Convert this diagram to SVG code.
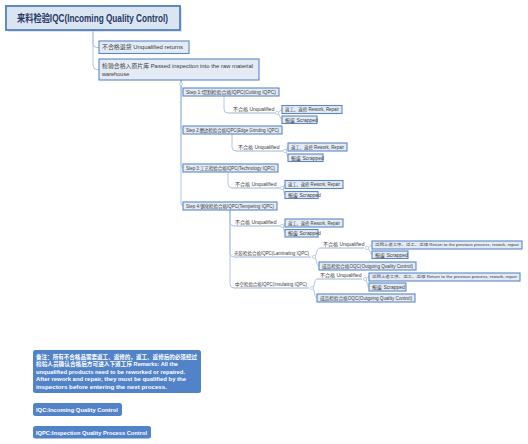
<svg xmlns="http://www.w3.org/2000/svg" width="528" height="444" viewBox="0 0 528 444">
<defs>
<style>
.bg{fill:#ffffff}
.t{font-family:"Liberation Sans","Noto Sans CJK SC",sans-serif;font-size:5px;fill:#3a3a3a}
.ts{font-family:"Liberation Sans","Noto Sans CJK SC",sans-serif;font-size:3.8px;fill:#3a3a3a}
.box{fill:#e4ebf5;stroke:#5b87c5;stroke-width:1.1}
.root{fill:#dbe5f1;stroke:#4f81bd;stroke-width:1.8}
.rt{font-family:"Liberation Sans","Noto Sans CJK SC",sans-serif;font-size:10px;font-weight:bold;fill:#1f3864}
.ln{fill:none;stroke:#b2c5df;stroke-width:1}
.ul{fill:none;stroke:#9db6d8;stroke-width:1}
.dot{fill:#ffffff;stroke:#b2c5df;stroke-width:0.8}
.note{fill:#5283c8}
.nt{font-family:"Liberation Sans","Noto Sans CJK SC",sans-serif;font-size:5.8px;font-weight:bold;fill:#ffffff}
</style>
</defs>
<rect class="bg" x="0" y="0" width="528" height="444"/>

<g id="connectors">
<path class="ln" d="M93,30 V43.5 Q93,47.5 97,47.5 H99"/>
<path class="ln" d="M93,30 V65.5 Q93,69.5 97,69.5 H99"/>
<path class="ln" d="M181,80 V88 Q181,92 183,92"/>
<path class="ln" d="M181,80 V126 Q181,130 183,130"/>
<path class="ln" d="M181,80 V164 Q181,168 183,168"/>
<path class="ln" d="M181,80 V202 Q181,206 183,206"/>
<path class="ln" d="M224,96 V109 Q224,113 228,113"/>
<path class="ul" d="M228,113 H275"/>
<path class="ln" d="M277,113 C280,113 280,109.5 282,109.5"/>
<path class="ln" d="M277,113 C280,113 280,119.5 282,119.5"/>
<path class="ln" d="M232,134 V147 Q232,151 236,151"/>
<path class="ul" d="M236,151 H283"/>
<path class="ln" d="M285,151 C287,151 287,147 288,147"/>
<path class="ln" d="M285,151 C287,151 287,157.5 288,157.5"/>
<path class="ln" d="M228,172 V184 Q228,188 232,188"/>
<path class="ul" d="M232,188 H280"/>
<path class="ln" d="M282,188 C284,188 284,184.5 285,184.5"/>
<path class="ln" d="M282,188 C284,188 284,195 285,195"/>
<path class="ln" d="M230,210 V222 Q230,226 234,226"/>
<path class="ln" d="M230,210 V253 Q230,257 234,257"/>
<path class="ln" d="M230,210 V284 Q230,288 234,288"/>
<path class="ul" d="M234,226 H280"/>
<path class="ln" d="M282,226 C284,226 284,223 285,223"/>
<path class="ln" d="M282,226 C284,226 284,233 285,233"/>
<path class="ul" d="M234,257 H311"/>
<path class="ul" d="M234,288 H309"/>
<path class="ln" d="M314,257 C317,257 316,248 320,248"/>
<path class="ln" d="M314,257 C317,257 316,266 319,266"/>
<path class="ul" d="M320,248 H364"/>
<path class="ln" d="M367,248 C370,248 370,245 372,245"/>
<path class="ln" d="M367,248 C370,248 370,254.5 372,254.5"/>
<path class="ln" d="M312,288 C315,288 314,279 317,279"/>
<path class="ln" d="M312,288 C315,288 314,298 317,298"/>
<path class="ul" d="M317,279 H362"/>
<path class="ln" d="M365,279 C367,279 367,277 369,277"/>
<path class="ln" d="M365,279 C367,279 367,287 369,287"/>
<circle class="dot" cx="277" cy="113" r="1.6"/>
<circle class="dot" cx="285" cy="151" r="1.6"/>
<circle class="dot" cx="282" cy="188" r="1.6"/>
<circle class="dot" cx="282" cy="226" r="1.6"/>
<circle class="dot" cx="314" cy="257" r="1.6"/>
<circle class="dot" cx="312" cy="288" r="1.6"/>
<circle class="dot" cx="367" cy="248" r="1.6"/>
<circle class="dot" cx="365" cy="279" r="1.6"/>
<circle class="dot" cx="181" cy="84" r="1.4"/>
</g>

<g id="root">
<rect x="8" y="8" width="174" height="24" fill="#c9cfd8" opacity="0.6"/>
<rect class="root" x="6" y="6" width="174" height="24"/>
<text class="rt" x="17" y="21.5" textLength="151" lengthAdjust="spacingAndGlyphs">来料检验IQC(Incoming Quality Control)</text>
</g>

<g id="n-returns">
<rect class="box" x="99" y="41" width="90" height="12.5"/>
<text class="t" x="102" y="49.3" style="font-size:5.6px" textLength="81" lengthAdjust="spacingAndGlyphs">不合格退货 Unqualified returns</text>
</g>

<g id="n-passed">
<rect class="box" x="99" y="59" width="160" height="21"/>
<text class="t" x="102" y="67.5" style="font-size:5.6px" textLength="151" lengthAdjust="spacingAndGlyphs">检验合格入原片库 Passed inspection into the raw material</text>
<text class="t" x="102" y="75.5" style="font-size:5.6px">warehouse</text>
</g>

<g id="step1">
<rect class="box" x="183" y="88" width="96" height="8"/>
<text class="t" x="186" y="93.8" textLength="90" lengthAdjust="spacingAndGlyphs">Step 1:切割检验合格IQPC(Cutting IQPC)</text>
</g>
<g id="step1-unq"><text class="t" x="233" y="111.3">不合格 Unqualified</text></g>
<g id="step1-rework"><rect class="box" x="282" y="105.5" width="60" height="8"/><text class="t" x="285" y="111.3" textLength="54" lengthAdjust="spacingAndGlyphs">返工、返修 Rework, Repair</text></g>
<g id="step1-scrap"><rect class="box" x="282" y="116" width="35" height="7.5"/><text class="t" x="285" y="121.5">报废 Scrapped</text></g>

<g id="step2">
<rect class="box" x="183" y="126" width="99" height="8"/>
<text class="t" x="186" y="131.8" textLength="93" lengthAdjust="spacingAndGlyphs">Step 2:磨边检验合格IQPC(Edge Grinding IQPC)</text>
</g>
<g id="step2-unq"><text class="t" x="238" y="149.3">不合格 Unqualified</text></g>
<g id="step2-rework"><rect class="box" x="288" y="143" width="59" height="8"/><text class="t" x="291" y="148.8" textLength="53" lengthAdjust="spacingAndGlyphs">返工、返修 Rework, Repair</text></g>
<g id="step2-scrap"><rect class="box" x="288" y="154" width="35" height="7.5"/><text class="t" x="291" y="159.5">报废 Scrapped</text></g>

<g id="step3">
<rect class="box" x="183" y="164" width="95" height="8"/>
<text class="t" x="186" y="169.8" textLength="89" lengthAdjust="spacingAndGlyphs">Step 3:工艺检验合格IQPC(Technology IQPC)</text>
</g>
<g id="step3-unq"><text class="t" x="235" y="186.3">不合格 Unqualified</text></g>
<g id="step3-rework"><rect class="box" x="285" y="180.5" width="58" height="8"/><text class="t" x="288" y="186.3" textLength="52" lengthAdjust="spacingAndGlyphs">返工、返修 Rework, Repair</text></g>
<g id="step3-scrap"><rect class="box" x="285" y="191.5" width="33" height="7"/><text class="t" x="288" y="196.7">报废 Scrapped</text></g>

<g id="step4">
<rect class="box" x="183" y="202" width="94" height="8"/>
<text class="t" x="186" y="207.8" textLength="88" lengthAdjust="spacingAndGlyphs">Step 4:钢化检验合格IQPC(Tempering IQPC)</text>
</g>
<g id="step4-unq"><text class="t" x="235" y="224.3">不合格 Unqualified</text></g>
<g id="step4-rework"><rect class="box" x="285" y="219" width="58" height="8"/><text class="t" x="288" y="224.8" textLength="52" lengthAdjust="spacingAndGlyphs">返工、返修 Rework, Repair</text></g>
<g id="step4-scrap"><rect class="box" x="285" y="229.5" width="33" height="7.5"/><text class="t" x="288" y="235">报废 Scrapped</text></g>

<g id="laminating"><text class="t" x="234" y="255.3" textLength="75" lengthAdjust="spacingAndGlyphs">夹胶检验合格IQPC(Laminating IQPC)</text></g>
<g id="lam-unq"><text class="t" x="323" y="246.3">不合格 Unqualified</text></g>
<g id="lam-return"><rect class="box" x="372" y="241" width="150" height="8"/><text class="ts" x="375" y="246.4" textLength="144" lengthAdjust="spacingAndGlyphs">返回上道工序、返工、返修 Return to the previous process, rework, repair</text></g>
<g id="lam-scrap"><rect class="box" x="372" y="251" width="36" height="7.5"/><text class="t" x="375" y="256.5">报废 Scrapped</text></g>
<g id="lam-oqc"><rect class="box" x="319" y="262" width="97" height="8"/><text class="t" x="322" y="267.8" textLength="91" lengthAdjust="spacingAndGlyphs">成品检验合格OQC(Outgoing Quality Control)</text></g>

<g id="insulating"><text class="t" x="235" y="286.3" textLength="72" lengthAdjust="spacingAndGlyphs">中空检验合格IQPC(Insulating IQPC)</text></g>
<g id="ins-unq"><text class="t" x="320" y="277.3">不合格 Unqualified</text></g>
<g id="ins-return"><rect class="box" x="369" y="273" width="151" height="8"/><text class="ts" x="372" y="278.4" textLength="145" lengthAdjust="spacingAndGlyphs">返回上道工序、返工、返修 Return to the previous process, rework, repair</text></g>
<g id="ins-scrap"><rect class="box" x="369" y="283" width="37" height="8"/><text class="t" x="372" y="288.8">报废 Scrapped</text></g>
<g id="ins-oqc"><rect class="box" x="317" y="294" width="98" height="8"/><text class="t" x="320" y="299.8" textLength="92" lengthAdjust="spacingAndGlyphs">成品检验合格OQC(Outgoing Quality Control)</text></g>

<g id="note-remarks">
<rect class="note" x="33" y="350" width="168" height="43" rx="2.5"/>
<text class="nt" x="36" y="358.5" textLength="161" lengthAdjust="spacingAndGlyphs">备注：所有不合格品需要返工、返修的，返工、返修后的必须经过</text>
<text class="nt" x="36" y="366" textLength="142" lengthAdjust="spacingAndGlyphs">检验人员确认合格后方可进入下道工序 Remarks: All the</text>
<text class="nt" x="36" y="373.5" textLength="149" lengthAdjust="spacingAndGlyphs">unqualified products need to be reworked or repaired.</text>
<text class="nt" x="36" y="381" textLength="150" lengthAdjust="spacingAndGlyphs">After rework and repair, they must be qualified by the</text>
<text class="nt" x="36" y="388.5" textLength="131" lengthAdjust="spacingAndGlyphs">inspectors before entering the next process.</text>
</g>
<g id="note-iqc">
<rect class="note" x="33" y="403" width="89" height="13" rx="2.5"/>
<text class="nt" x="36" y="411.5" textLength="82" lengthAdjust="spacingAndGlyphs">IQC:Incoming Quality Control</text>
</g>
<g id="note-iqpc">
<rect class="note" x="33" y="426" width="118" height="12.5" rx="2.5"/>
<text class="nt" x="36" y="434.5" textLength="111" lengthAdjust="spacingAndGlyphs">IQPC:Inspection Quality Process Control</text>
</g>
</svg>
